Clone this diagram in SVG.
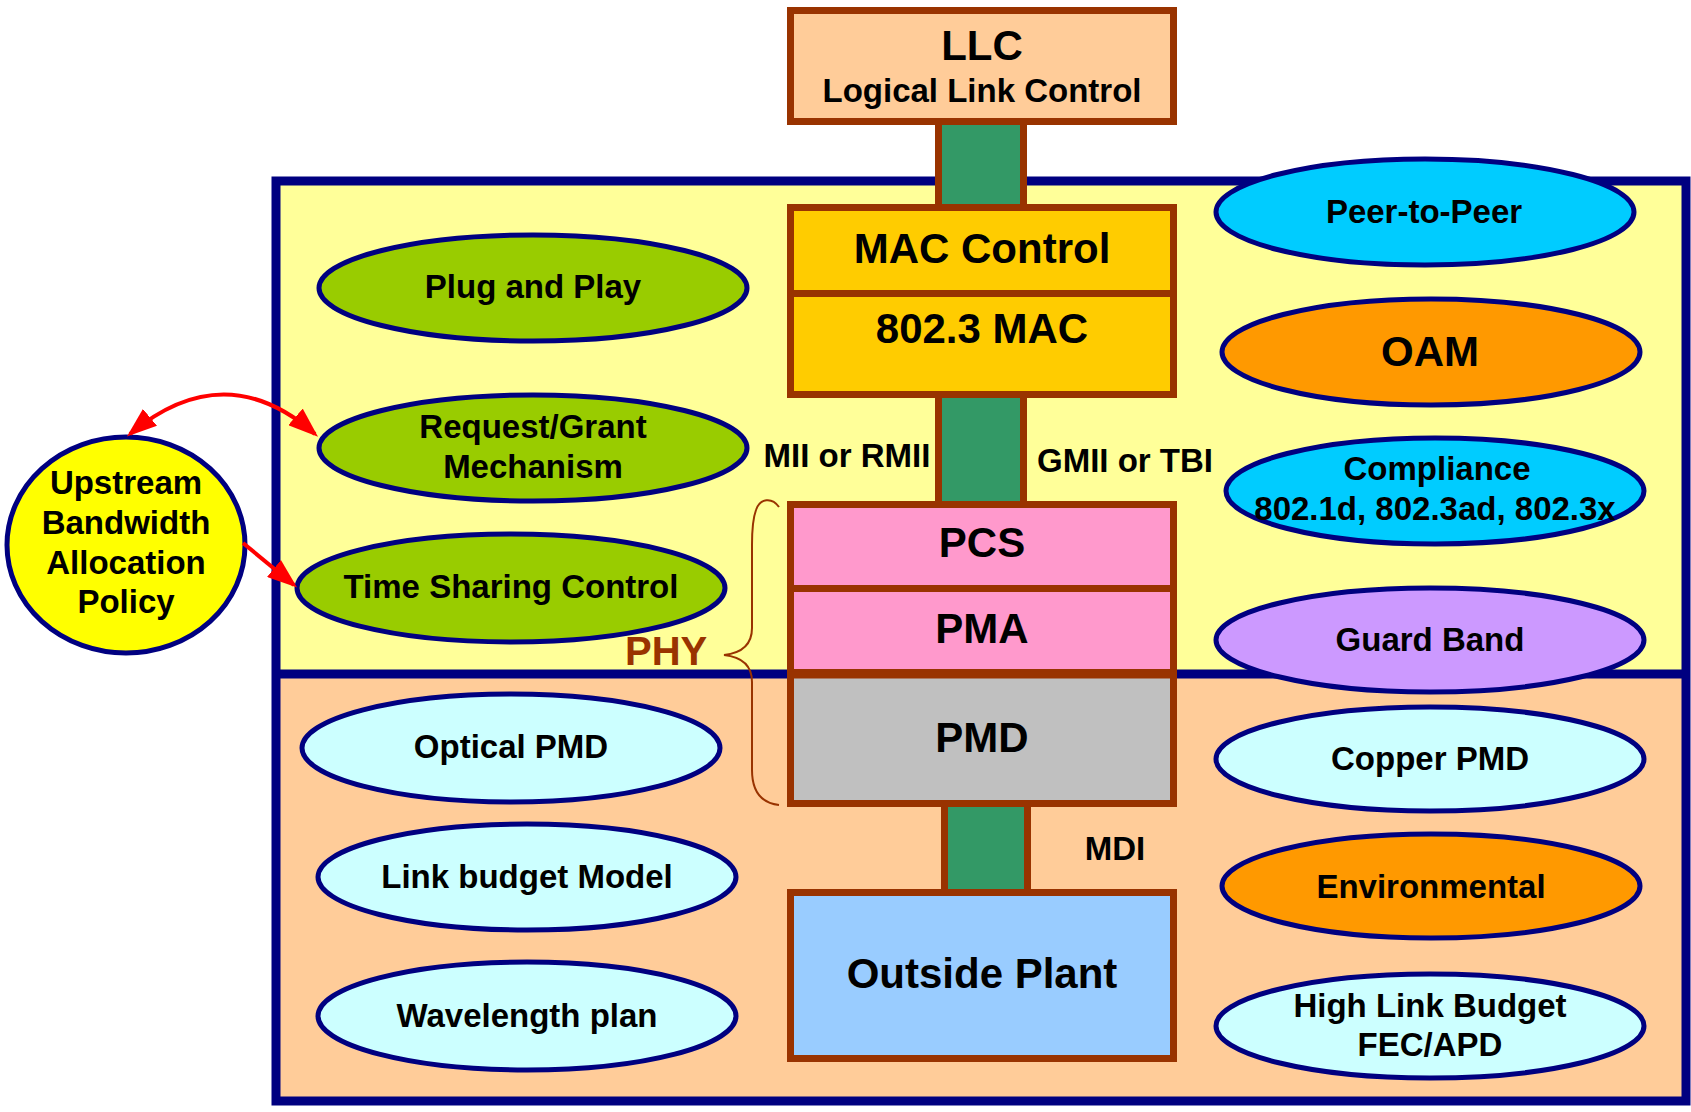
<svg xmlns="http://www.w3.org/2000/svg" width="1691" height="1112" viewBox="0 0 1691 1112">
<defs>
<style>
text{font-family:"Liberation Sans",Arial,sans-serif;font-weight:bold;fill:#000;text-anchor:middle}
.el{stroke:#000080;stroke-width:5}
.box{stroke:#993300;stroke-width:7}
.bar{fill:#339966;stroke:#993300;stroke-width:7}
.arrow{fill:none;stroke:#FF0000;stroke-width:4}
.t33{font-size:33px}
.t42{font-size:42px}
</style>
<marker id="ah" viewBox="0 0 30 22" refX="26" refY="11" markerWidth="30" markerHeight="22" markerUnits="userSpaceOnUse" orient="auto-start-reverse"><path d="M0,0 L30,11 L0,22 z" fill="#FF0000"/></marker>
</defs>
<rect width="1691" height="1112" fill="#FFFFFF"/>
<g id="frame">
<rect x="276" y="181" width="1410" height="493" fill="#FFFF99"/>
<rect x="276" y="674" width="1410" height="427" fill="#FFCC99"/>
<line x1="276" y1="674" x2="1686" y2="674" stroke="#000080" stroke-width="9"/>
<rect x="276" y="181" width="1410" height="920" fill="none" stroke="#000080" stroke-width="9"/>
</g>
<g id="plug-and-play"><ellipse class="el" cx="533" cy="288" rx="214" ry="53" fill="#99CC00"/><text class="t33" x="533" y="298">Plug and Play</text></g>
<g id="request-grant"><ellipse class="el" cx="533" cy="448" rx="214" ry="53" fill="#99CC00"/><text class="t33" x="533" y="438">Request/Grant</text><text class="t33" x="533" y="478">Mechanism</text></g>
<g id="time-sharing"><ellipse class="el" cx="511" cy="588" rx="214" ry="54" fill="#99CC00"/><text class="t33" x="511" y="598">Time Sharing Control</text></g>
<g id="optical-pmd"><ellipse class="el" cx="511" cy="748" rx="209" ry="54" fill="#CCFFFF"/><text class="t33" x="511" y="758">Optical PMD</text></g>
<g id="link-budget"><ellipse class="el" cx="527" cy="877" rx="209" ry="53" fill="#CCFFFF"/><text class="t33" x="527" y="888">Link budget Model</text></g>
<g id="wavelength"><ellipse class="el" cx="527" cy="1016" rx="209" ry="54" fill="#CCFFFF"/><text class="t33" x="527" y="1027">Wavelength plan</text></g>
<g id="peer-to-peer"><ellipse class="el" cx="1425" cy="212" rx="209" ry="53" fill="#00CCFF"/><text class="t33" x="1424" y="223">Peer-to-Peer</text></g>
<g id="oam"><ellipse class="el" cx="1431" cy="352" rx="209" ry="53" fill="#FF9900"/><text class="t42" x="1430" y="366">OAM</text></g>
<g id="compliance"><ellipse class="el" cx="1435" cy="491" rx="209" ry="53" fill="#00CCFF"/><text class="t33" x="1437" y="480">Compliance</text><text class="t33" x="1435" y="520">802.1d, 802.3ad, 802.3x</text></g>
<g id="guard-band"><ellipse class="el" cx="1430" cy="640" rx="214" ry="52" fill="#CC99FF"/><text class="t33" x="1430" y="651">Guard Band</text></g>
<g id="copper-pmd"><ellipse class="el" cx="1430" cy="759" rx="214" ry="52" fill="#CCFFFF"/><text class="t33" x="1430" y="770">Copper PMD</text></g>
<g id="environmental"><ellipse class="el" cx="1431" cy="886" rx="209" ry="52" fill="#FF9900"/><text class="t33" x="1431" y="898">Environmental</text></g>
<g id="high-link-budget"><ellipse class="el" cx="1430" cy="1026" rx="214" ry="52" fill="#CCFFFF"/><text class="t33" x="1430" y="1017">High Link Budget</text><text class="t33" x="1430" y="1056">FEC/APD</text></g>
<g id="upstream-policy"><ellipse class="el" cx="126" cy="545" rx="119" ry="108" fill="#FFFF00"/><text class="t33" x="126" y="494">Upstream</text><text class="t33" x="126" y="534">Bandwidth</text><text class="t33" x="126" y="574">Allocation</text><text class="t33" x="126" y="613">Policy</text></g>
<g id="connectors">
<rect class="bar" x="938.5" y="121.5" width="85" height="86"/>
<rect class="bar" x="938.5" y="394.5" width="85" height="110"/>
<rect class="bar" x="944.5" y="803.5" width="83" height="89"/>
<path class="arrow" d="M130,434 Q225,355 315,434" marker-start="url(#ah)" marker-end="url(#ah)"/>
<path class="arrow" d="M243,543 L294,585" marker-end="url(#ah)"/>
</g>
<g id="llc"><rect class="box" x="790.5" y="10.5" width="383" height="111" fill="#FFCC99"/><text class="t42" x="982" y="60">LLC</text><text class="t33" x="982" y="102">Logical Link Control</text></g>
<g id="mac-control"><rect class="box" x="790.5" y="207.5" width="383" height="86" fill="#FFCC00"/><text class="t42" x="982" y="263">MAC Control</text></g>
<g id="mac-8023"><rect class="box" x="790.5" y="293.5" width="383" height="101" fill="#FFCC00"/><text class="t42" x="982" y="343">802.3 MAC</text></g>
<g id="pcs"><rect class="box" x="790.5" y="504.5" width="383" height="84" fill="#FF99CC"/><text class="t42" x="982" y="557">PCS</text></g>
<g id="pma"><rect class="box" x="790.5" y="588.5" width="383" height="84" fill="#FF99CC"/><text class="t42" x="982" y="643">PMA</text></g>
<g id="pmd"><rect class="box" x="790.5" y="675" width="383" height="128.5" fill="#C0C0C0"/><text class="t42" x="982" y="752">PMD</text></g>
<g id="outside-plant"><rect class="box" x="790.5" y="892.5" width="383" height="166" fill="#99CCFF"/><text class="t42" x="982" y="988">Outside Plant</text></g>
<g id="phy">
<path d="M779,507 C772,497 760,498 756,510 C753,518 752,530 752,545 L752,628 C752,645 742,653 724,655 C742,657 752,665 752,682 L752,770 C752,792 762,803 779,805" fill="none" stroke="#993300" stroke-width="2"/>
<text x="625" y="665" style="font-size:40px;fill:#993300;text-anchor:start">PHY</text>
</g>
<g id="labels">
<text class="t33" x="847" y="467">MII or RMII</text>
<text class="t33" x="1125" y="472">GMII or TBI</text>
<text class="t33" x="1115" y="860">MDI</text>
</g>
</svg>
